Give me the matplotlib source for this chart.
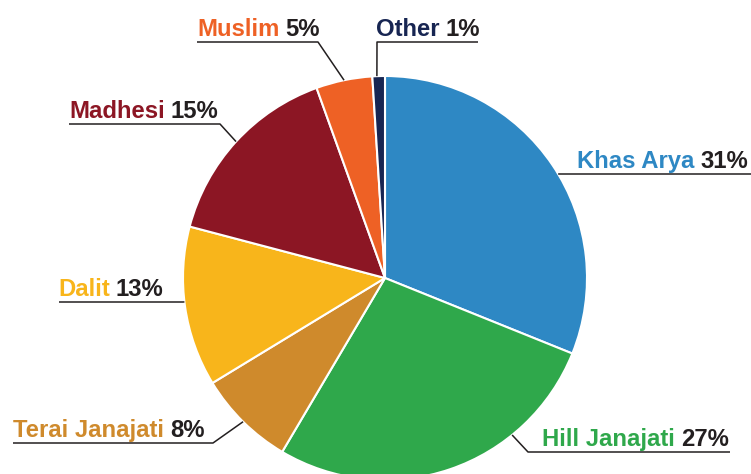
import numpy as np
import matplotlib.pyplot as plt

groups = ["Khas Arya", "Hill Janajati", "Terai Janajati", "Dalit", "Madhesi", "Muslim", "Other"]
shares = [31.1, 27.4, 7.8, 12.8, 15.4, 4.5, 1.0]
colors = ["#2E88C4", "#2FA84B", "#CF8A2C", "#F8B51B", "#8C1624", "#EE6125", "#172552"]

W, H = 751, 474
DARK = "#231F20"

# label layout in pixels (from top-left): text x, underline y, underline x0, x1, leader side, leader angle
label_pos = {
    "Khas Arya":      (577, 174, 560, 751, "left", 31),
    "Hill Janajati":  (542, 452, 528, 730, "left", 309),
    "Terai Janajati": (13, 443, 13, 213, "right", None),
    "Dalit":          (58, 302, 59, 183, "right", 186.8),
    "Madhesi":        (69, 124, 69, 220, "right", None),
    "Muslim":         (197, 42, 197, 318, "right", None),
    "Other":          (376, 42, 377, 478, "left", 92.3),
}

plt.rcParams['font.family'] = ['Liberation Sans', 'DejaVu Sans']

fig = plt.figure(figsize=(W / 100, H / 100), dpi=100)
ax = fig.add_axes([0, 0, 1, 1])

cx, cy, r = 385, H - 278, 202
wedges, _ = ax.pie(shares, colors=colors, startangle=90, counterclock=False,
                   center=(cx, cy), radius=r, frame=True,
                   wedgeprops=dict(edgecolor='white', linewidth=1.5))
ax.set_xlim(0, W)
ax.set_ylim(0, H)
ax.axis('off')

renderer = fig.canvas.get_renderer()
for w, name, val in zip(wedges, groups, shares):
    tx, uy, x0, x1, side, ang = label_pos[name]
    y = H - uy
    if ang is None:
        ang = (w.theta1 + w.theta2) / 2
    ex = cx + r * np.cos(np.radians(ang))
    ey = cy + r * np.sin(np.radians(ang))
    if side == "left":
        xs, ys = [ex, x0, x1], [ey, y, y]
    else:
        xs, ys = [x0, x1, ex], [y, y, ey]
    ax.plot(xs, ys, color=DARK, lw=1.1, solid_capstyle='butt')

    t = ax.text(tx, y + 6, name, color=w.get_facecolor(), fontsize=17.2,
                fontweight='bold', va='baseline', ha='left')
    bb = t.get_window_extent(renderer)
    ax.text(bb.x1 + 6, y + 6, f"{int(val + 0.5)}%", color=DARK, fontsize=17.2,
            fontweight='bold', va='baseline', ha='left')

fig.savefig("out.png", dpi=100)
